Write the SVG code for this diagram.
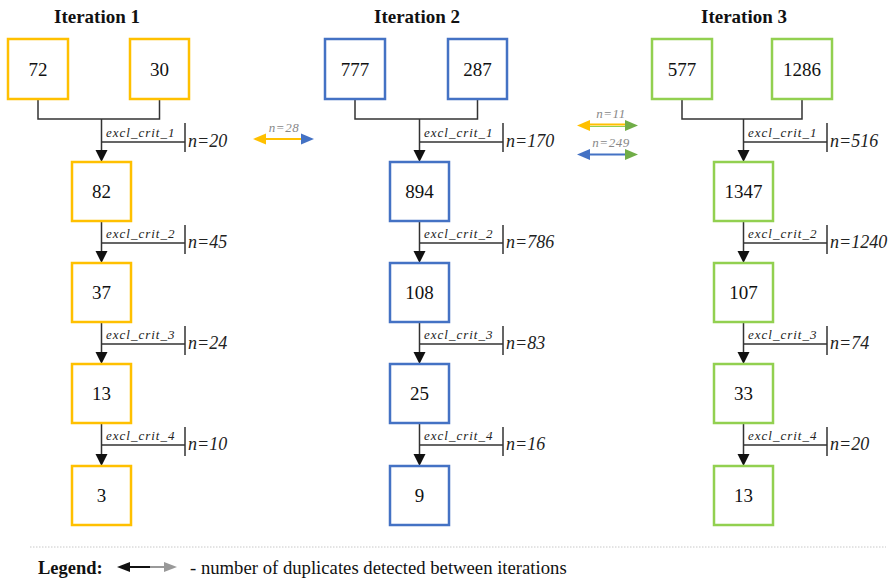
<svg xmlns="http://www.w3.org/2000/svg" width="894" height="580" viewBox="0 0 894 580">
<defs>
<style>
text{font-family:"Liberation Serif","Times New Roman",Tinos,"DejaVu Serif",serif}
.y{fill:#fff;stroke:#FFC000;stroke-width:2.5}
.b{fill:#fff;stroke:#4472C4;stroke-width:2.5}
.g{fill:#fff;stroke:#92D050;stroke-width:2.5}
.num{font-size:19px;fill:#111;text-anchor:middle}
.title{font-size:19px;font-weight:bold;fill:#111;text-anchor:middle}
.crit{font-size:13px;font-style:italic;fill:#222;letter-spacing:1px}
.n{font-size:18px;font-style:italic;fill:#222}
.dn{font-size:13px;font-style:italic;fill:#888;text-anchor:middle;letter-spacing:0.5px}
.ln{fill:none;stroke:#333;stroke-width:1.5}
.ah{fill:#111}
</style>
</defs>
<rect width="894" height="580" fill="#fff"/>
<g id="titles">
<text class="title" x="97" y="23">Iteration 1</text>
<text class="title" x="417" y="23">Iteration 2</text>
<text class="title" x="744" y="23">Iteration 3</text>
</g>
<g id="connectors">
<path class="ln" d="M38,99 V119 H159.5 V99 M101.5,119 V151 M101.5,142 H185 M185,123 V152"/>
<polygon class="ah" points="95.5,150 107.5,150 101.5,162"/>
<path class="ln" d="M101.5,221 V252 M101.5,243 H185 M185,225 V254"/>
<polygon class="ah" points="95.5,251 107.5,251 101.5,263"/>
<path class="ln" d="M101.5,322 V353 M101.5,344 H185 M185,326 V355"/>
<polygon class="ah" points="95.5,352 107.5,352 101.5,364"/>
<path class="ln" d="M101.5,423 V455 M101.5,445 H185 M185,427 V456"/>
<polygon class="ah" points="95.5,454 107.5,454 101.5,466"/>
<path class="ln" d="M355,99 V119 H477.5 V99 M419.5,119 V151 M419.5,142 H503 M503,123 V152"/>
<polygon class="ah" points="413.5,150 425.5,150 419.5,162"/>
<path class="ln" d="M419.5,221 V252 M419.5,243 H503 M503,225 V254"/>
<polygon class="ah" points="413.5,251 425.5,251 419.5,263"/>
<path class="ln" d="M419.5,322 V353 M419.5,344 H503 M503,326 V355"/>
<polygon class="ah" points="413.5,352 425.5,352 419.5,364"/>
<path class="ln" d="M419.5,423 V455 M419.5,445 H503 M503,427 V456"/>
<polygon class="ah" points="413.5,454 425.5,454 419.5,466"/>
<path class="ln" d="M682,99 V119 H802 V99 M743.5,119 V151 M743.5,142 H827 M827,123 V152"/>
<polygon class="ah" points="737.5,150 749.5,150 743.5,162"/>
<path class="ln" d="M743.5,221 V252 M743.5,243 H827 M827,225 V254"/>
<polygon class="ah" points="737.5,251 749.5,251 743.5,263"/>
<path class="ln" d="M743.5,322 V353 M743.5,344 H827 M827,326 V355"/>
<polygon class="ah" points="737.5,352 749.5,352 743.5,364"/>
<path class="ln" d="M743.5,423 V455 M743.5,445 H827 M827,427 V456"/>
<polygon class="ah" points="737.5,454 749.5,454 743.5,466"/>
</g>
<g id="labels">
<text class="crit" x="106" y="137">excl_crit_1</text><text class="n" x="188" y="147">n=20</text>
<text class="crit" x="106" y="238">excl_crit_2</text><text class="n" x="188" y="248">n=45</text>
<text class="crit" x="106" y="339">excl_crit_3</text><text class="n" x="188" y="349">n=24</text>
<text class="crit" x="106" y="440">excl_crit_4</text><text class="n" x="188" y="450">n=10</text>
<text class="crit" x="424" y="137">excl_crit_1</text><text class="n" x="506" y="147">n=170</text>
<text class="crit" x="424" y="238">excl_crit_2</text><text class="n" x="506" y="248">n=786</text>
<text class="crit" x="424" y="339">excl_crit_3</text><text class="n" x="506" y="349">n=83</text>
<text class="crit" x="424" y="440">excl_crit_4</text><text class="n" x="506" y="450">n=16</text>
<text class="crit" x="748" y="137">excl_crit_1</text><text class="n" x="830" y="147">n=516</text>
<text class="crit" x="748" y="238">excl_crit_2</text><text class="n" x="830" y="248">n=1240</text>
<text class="crit" x="748" y="339">excl_crit_3</text><text class="n" x="830" y="349">n=74</text>
<text class="crit" x="748" y="440">excl_crit_4</text><text class="n" x="830" y="450">n=20</text>
</g>
<g id="node-72"><rect class="y" x="8" y="39" width="60" height="60"/><text class="num" x="38" y="76">72</text></g>
<g id="node-30"><rect class="y" x="130" y="39" width="59" height="60"/><text class="num" x="159.5" y="76">30</text></g>
<g id="node-82"><rect class="y" x="72" y="162" width="59" height="59"/><text class="num" x="101.5" y="198">82</text></g>
<g id="node-37"><rect class="y" x="72" y="263" width="59" height="59"/><text class="num" x="101.5" y="299">37</text></g>
<g id="node-13a"><rect class="y" x="72" y="364" width="59" height="59"/><text class="num" x="101.5" y="400">13</text></g>
<g id="node-3"><rect class="y" x="72" y="466" width="59" height="59"/><text class="num" x="101.5" y="502">3</text></g>
<g id="node-777"><rect class="b" x="325" y="39" width="60" height="60"/><text class="num" x="355" y="76">777</text></g>
<g id="node-287"><rect class="b" x="448" y="39" width="59" height="60"/><text class="num" x="477.5" y="76">287</text></g>
<g id="node-894"><rect class="b" x="390" y="162" width="59" height="59"/><text class="num" x="419.5" y="198">894</text></g>
<g id="node-108"><rect class="b" x="390" y="263" width="59" height="59"/><text class="num" x="419.5" y="299">108</text></g>
<g id="node-25"><rect class="b" x="390" y="364" width="59" height="59"/><text class="num" x="419.5" y="400">25</text></g>
<g id="node-9"><rect class="b" x="390" y="466" width="59" height="59"/><text class="num" x="419.5" y="502">9</text></g>
<g id="node-577"><rect class="g" x="652" y="39" width="60" height="60"/><text class="num" x="682" y="76">577</text></g>
<g id="node-1286"><rect class="g" x="772" y="39" width="60" height="60"/><text class="num" x="802" y="76">1286</text></g>
<g id="node-1347"><rect class="g" x="714" y="162" width="59" height="59"/><text class="num" x="743.5" y="198">1347</text></g>
<g id="node-107"><rect class="g" x="714" y="263" width="59" height="59"/><text class="num" x="743.5" y="299">107</text></g>
<g id="node-33"><rect class="g" x="714" y="364" width="59" height="59"/><text class="num" x="743.5" y="400">33</text></g>
<g id="node-13b"><rect class="g" x="714" y="466" width="59" height="59"/><text class="num" x="743.5" y="502">13</text></g>
<g id="duplicates">
<line x1="264" y1="139" x2="302" y2="139" stroke="#FFC000" stroke-width="2"/>
<polygon points="253,139 266,133.5 266,144.5" fill="#FFC000"/>
<polygon points="314,139 301,133.5 301,144.5" fill="#4472C4"/>
<text class="dn" x="284" y="132">n=28</text>
<line x1="588" y1="124.5" x2="627" y2="124.5" stroke="#FFC000" stroke-width="1.8"/>
<line x1="588" y1="126.5" x2="627" y2="126.5" stroke="#92D050" stroke-width="1.2"/>
<polygon points="577,125.5 590,120 590,131" fill="#FFC000"/>
<polygon points="638,125.5 625,120 625,131" fill="#70AD47"/>
<text class="dn" x="611" y="118">n=11</text>
<line x1="588" y1="154.5" x2="627" y2="154.5" stroke="#4472C4" stroke-width="1.8"/>
<polygon points="577,154.5 590,149 590,160" fill="#4472C4"/>
<polygon points="638,154.5 625,149 625,160" fill="#70AD47"/>
<text class="dn" x="611" y="147">n=249</text>
</g>
<g id="legend">
<line x1="30" y1="547" x2="886" y2="547" stroke="#c8c8c8" stroke-width="1" stroke-dasharray="1.5,1.5"/>
<text x="38" y="574" font-size="18.5" font-weight="bold" fill="#111">Legend:</text>
<line x1="128" y1="567" x2="150" y2="567" stroke="#111" stroke-width="2"/>
<line x1="150" y1="567" x2="166" y2="567" stroke="#999" stroke-width="2"/>
<polygon points="117,567 130,562 130,572" fill="#111"/>
<polygon points="177,567 164,562 164,572" fill="#999"/>
<text x="190" y="574" font-size="18.7" fill="#111">- number of duplicates detected between iterations</text>
</g>
</svg>
